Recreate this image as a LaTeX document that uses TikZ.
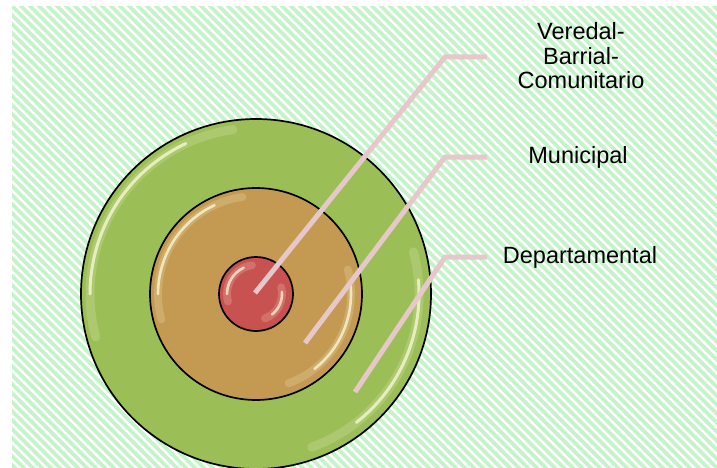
\documentclass[tikz,border=0pt]{standalone}
\usepackage{fontspec}
\setmainfont{Liberation Sans}
\usetikzlibrary{positioning, calc}

\definecolor{stripegreen}{RGB}{198,244,202}
\definecolor{depgreen}{RGB}{155,190,86}
\definecolor{muntan}{RGB}{196,154,82}
\definecolor{verred}{RGB}{200,82,80}
\definecolor{leaderpink}{RGB}{230,200,202}
\definecolor{gleamcol}{RGB}{255,255,225}

\begin{document}
\begin{tikzpicture}[
  x=1pt, y=-1pt,
  ring/.style={circle, draw=black, line width=1.7pt, inner sep=0pt},
  leader/.style={draw=leaderpink, line width=5pt},
  gleam/.style={draw=gleamcol, line cap=round},
  lbl/.style={font=\fontsize{23.5}{24.5}\selectfont, align=center, inner sep=0pt},
]
\useasboundingbox (0,0) rectangle (717,468);

% striped background
\begin{scope}
  \clip (12,7) rectangle (717,468);
  \foreach \c in {-480,-471,...,720}
    \draw[stripegreen, line width=3.8pt] (\c,0) -- ++(480,480);
\end{scope}

% the three levels
\node[ring, fill=depgreen, minimum size=350pt] (dep) at (256,294) {};
\node[ring, fill=muntan, minimum size=212pt] (mun) at (256,294) {};
\node[ring, fill=verred, minimum size=74pt] (ver) at (256,294) {};

% glass highlights
\foreach \n/\r/\w in {dep/166/3, mun/98/2.6, ver/29/2.6} {
  \draw[gleam, line width=3*\w pt, opacity=0.18]
    (\n.center) ++(165:\r) arc[start angle=165, end angle=262, radius=\r];
  \draw[gleam, line width=\w pt, opacity=0.7]
    (\n.center) ++(180:\r) arc[start angle=180, end angle=245, radius=\r];
  \draw[gleam, line width=3*\w pt, opacity=0.18]
    (\n.center) ++(-15:\r-3) arc[start angle=-15, end angle=70, radius=\r-3];
  \draw[gleam, line width=\w pt, opacity=0.7]
    (\n.center) ++(-5:\r-3) arc[start angle=-5, end angle=52, radius=\r-3];
}

% leader lines
\coordinate (pVer) at (255,293);
\coordinate (kVer) at (445,57);
\coordinate (eVer) at (487,57);
\coordinate (pMun) at (305,343);
\coordinate (kMun) at (445,157);
\coordinate (eMun) at (487,157);
\coordinate (pDep) at (355,392);
\coordinate (kDep) at (445,257);
\coordinate (eDep) at (487,257);

\draw[leader] (pVer) -- (kVer) -- (eVer);
\draw[leader] (pMun) -- (kMun) -- (eMun);
\draw[leader] (pDep) -- (kDep) -- (eDep);

% labels
\node[lbl] (lblVer) at (581,56) {Veredal-\\Barrial-\\Comunitario};
\node[lbl] (lblMun) at (578,157) {Municipal};
\node[lbl] (lblDep) at (580,257) {Departamental};
\end{tikzpicture}
\end{document}
